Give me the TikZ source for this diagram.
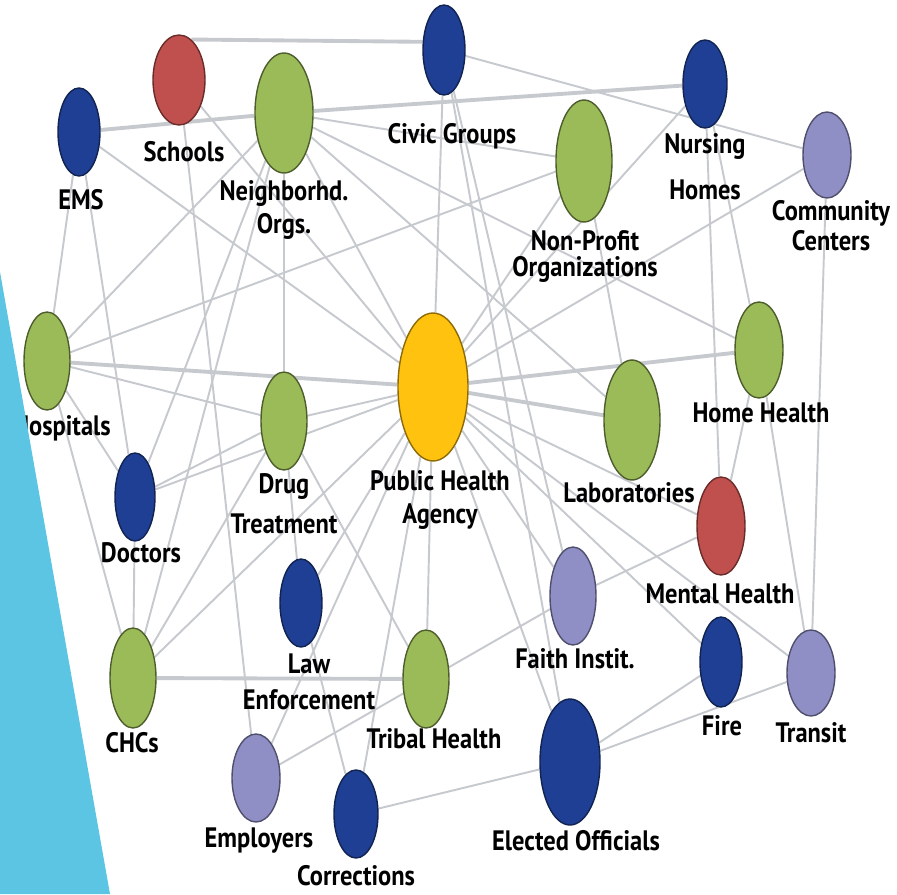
\documentclass[tikz,border=0pt]{standalone}
\usepackage{fontspec}
\setmainfont{PT Sans}[FakeStretch=0.87]
\usepackage{tikz}
\usetikzlibrary{shapes.geometric,backgrounds}

\definecolor{orgblue}{HTML}{1F3F94}
\definecolor{orggreen}{HTML}{9BBB59}
\definecolor{orgred}{HTML}{C0504D}
\definecolor{orglav}{HTML}{8F8FC6}
\definecolor{orgyellow}{HTML}{FFC20E}
\definecolor{linkgray}{HTML}{C6C9CE}
\definecolor{slide}{RGB}{91,197,227}

\begin{document}
\begin{tikzpicture}[x=0.2mm, y=-0.2mm,
    org/.style={ellipse, inner sep=0pt, line width=0.8pt},
    sz/.style 2 args={minimum width=#1*0.4mm, minimum height=#2*0.4mm},
    bluenode/.style={org, fill=orgblue, draw=orgblue!55!black},
    greennode/.style={org, fill=orggreen, draw=orggreen!50!black},
    rednode/.style={org, fill=orgred, draw=orgred!55!black},
    lavnode/.style={org, fill=orglav, draw=orglav!55!black},
    hubnode/.style={org, fill=orgyellow, draw=orgyellow!55!black},
    lbl/.style={anchor=north, inner sep=0pt, align=center,
        font=\bfseries\fontsize{16}{19}\selectfont},
    link/.style={draw=linkgray, line width=1.1pt},
    heavy/.style={link, line width=2.2pt}]
    \useasboundingbox (0,0) rectangle (897,894);

    % organisations
    \node [bluenode, sz={21}{45}] (civic) at (444,50) {};
    \node [rednode, sz={26}{45}] (schools) at (179,80) {};
    \node [greennode, sz={29}{60}] (neigh) at (284,113) {};
    \node [bluenode, sz={21}{44}] (ems) at (79,132) {};
    \node [bluenode, sz={22}{44}] (nursing) at (705,84) {};
    \node [greennode, sz={28}{61}] (nonprofit) at (584,161) {};
    \node [lavnode, sz={24}{43}] (community) at (827,155) {};
    \node [greennode, sz={23}{49}] (hospitals) at (47,361) {};
    \node [greennode, sz={23}{49}] (drug) at (284,421) {};
    \node [hubnode, sz={35}{74}] (pha) at (433,387) {};
    \node [bluenode, sz={20}{44}] (doctors) at (135,497) {};
    \node [greennode, sz={28}{60}] (labs) at (632,420) {};
    \node [greennode, sz={24}{48}] (homehealth) at (759,350) {};
    \node [rednode, sz={24}{49}] (mental) at (721,526) {};
    \node [bluenode, sz={21}{44}] (law) at (301,603) {};
    \node [lavnode, sz={23}{49}] (faith) at (573,596) {};
    \node [greennode, sz={23}{50}] (chcs) at (133,678) {};
    \node [greennode, sz={23}{49}] (tribal) at (426,679) {};
    \node [bluenode, sz={21}{45}] (fire) at (721,662) {};
    \node [lavnode, sz={24}{43}] (transit) at (811,673) {};
    \node [bluenode, sz={30}{63}] (elected) at (570,762) {};
    \node [lavnode, sz={24}{44}] (employers) at (256,778) {};
    \node [bluenode, sz={22}{44}] (corrections) at (356,814) {};

    % labels
    \node [lbl] (civic-t) at (452,123) {Civic Groups};
    \node [lbl] (schools-t) at (184,141) {Schools};
    \node [lbl] (neigh-t) at (284,180) {Neighborhd.\\Orgs.};
    \node [lbl] (ems-t) at (81,189) {EMS};
    \node [lbl] (nursing-t) at (705,133) {Nursing\\[7pt]Homes};
    \node [lbl] (nonprofit-t) at (585,230) {Non-Profit\\[-4pt]Organizations};
    \node [lbl] (community-t) at (831,200) {Community\\[-2pt]Centers};
    \node [lbl] (hospitals-t) at (62,415) {Hospitals};
    \node [lbl] (drug-t) at (284,473) {Drug\\[4pt]Treatment};
    \node [lbl] (pha-t) at (440,470) {Public Health\\Agency};
    \node [lbl] (doctors-t) at (141,542) {Doctors};
    \node [lbl] (labs-t) at (629,482) {Laboratories};
    \node [lbl] (homehealth-t) at (761,402) {Home Health};
    \node [lbl] (mental-t) at (720,583) {Mental Health};
    \node [lbl] (law-t) at (309,653) {Law\\[2pt]Enforcement};
    \node [lbl] (faith-t) at (575,648) {Faith Instit.};
    \node [lbl] (chcs-t) at (132,732) {CHCs};
    \node [lbl] (tribal-t) at (434,728) {Tribal Health};
    \node [lbl] (fire-t) at (722,715) {Fire};
    \node [lbl] (transit-t) at (811,722) {Transit};
    \node [lbl] (elected-t) at (576,830) {Elected Officials};
    \node [lbl] (employers-t) at (259,827) {Employers};
    \node [lbl] (corrections-t) at (356,865) {Corrections};

    % connections
    \begin{scope}[on background layer]
        \draw [heavy] (schools.73) -- (civic.159);
        \foreach \a/\b in {ems/neigh, neigh/nursing,
            hospitals/pha, chcs/tribal, pha/labs, pha/homehealth}
            \draw [heavy] (\a) -- (\b);
        \foreach \a/\b in {civic/community, neigh/nonprofit, neigh/homehealth,
            neigh/labs, neigh/pha, neigh/drug, neigh/hospitals, neigh/doctors,
            neigh/chcs, schools/pha, schools/employers, ems/pha, ems/hospitals,
            ems/doctors, civic/pha, civic/faith, civic/elected, nursing/pha,
            nursing/homehealth, nursing/mental, nonprofit/pha, nonprofit/labs,
            hospitals/nonprofit, community/pha, community/transit,
            hospitals/drug, hospitals/doctors, hospitals/chcs, drug/pha,
            doctors/drug, doctors/pha, doctors/chcs, chcs/drug, chcs/pha,
            drug/law, drug/tribal, law/pha, law/corrections, pha/mental,
            pha/faith, pha/fire, pha/transit, pha/elected, pha/tribal,
            pha/corrections, pha/employers, homehealth/mental,
            homehealth/transit, faith/mental, employers/faith,
            corrections/elected, elected/fire, elected/transit}
            \draw [link] (\a) -- (\b);
    \end{scope}

    % slide edge
    \fill [slide] (0,272) -- (110,894) -- (0,894) -- cycle;
\end{tikzpicture}
\end{document}
